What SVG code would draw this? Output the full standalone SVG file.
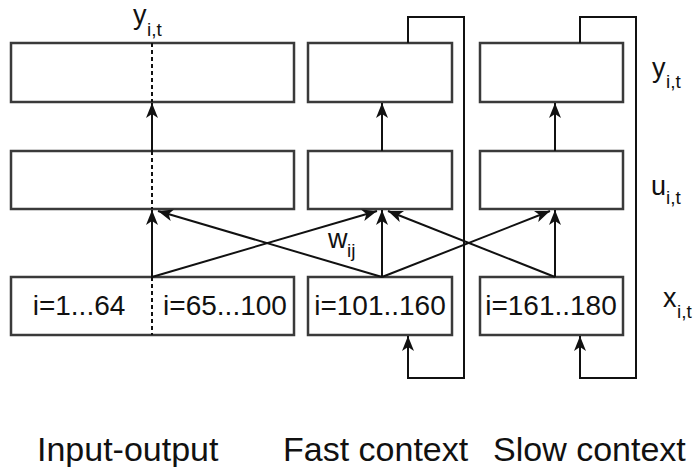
<svg xmlns="http://www.w3.org/2000/svg" width="693" height="467" viewBox="0 0 693 467">
<style>
.box{fill:#fff;stroke:#3a3a3a;stroke-width:2.5}
.ln{fill:none;stroke:#111;stroke-width:2}
.dash{fill:none;stroke:#111;stroke-width:2;stroke-dasharray:4,3}
text{font-family:"Liberation Sans",Arial,sans-serif;fill:#111}
.in{font-size:28px;text-anchor:middle}
.lab{font-size:34px}
.v{font-size:27px}
.s{font-size:19px}
</style>
<defs>
<marker id="ah" markerUnits="userSpaceOnUse" markerWidth="16" markerHeight="12" refX="15" refY="6" orient="auto">
<path d="M0,0 L15,6 L0,12 L4,6 Z" fill="#111"/>
</marker>
</defs>
<rect width="693" height="467" fill="#fff"/>
<g id="io-y"><rect class="box" x="11" y="43" width="283" height="59"/></g>
<g id="io-u"><rect class="box" x="11" y="151" width="283" height="58"/></g>
<g id="io-x"><rect class="box" x="11" y="277" width="283" height="58"/>
<text class="in" x="79" y="315">i=1...64</text>
<text class="in" x="225" y="315">i=65...100</text></g>
<g id="fast-y"><rect class="box" x="308" y="43" width="144" height="59"/></g>
<g id="fast-u"><rect class="box" x="308" y="151" width="144" height="58"/></g>
<g id="fast-x"><rect class="box" x="308" y="277" width="144" height="58"/>
<text class="in" x="380" y="315">i=101..160</text></g>
<g id="slow-y"><rect class="box" x="480" y="43" width="143" height="59"/></g>
<g id="slow-u"><rect class="box" x="480" y="151" width="143" height="58"/></g>
<g id="slow-x"><rect class="box" x="480" y="277" width="143" height="58"/>
<text class="in" x="551" y="315">i=161..180</text></g>
<g id="connectors">
<line class="dash" x1="152" y1="43" x2="152" y2="102"/>
<line class="dash" x1="152" y1="151" x2="152" y2="209"/>
<line class="dash" x1="152" y1="277" x2="152" y2="335"/>
<line class="ln" x1="152" y1="151" x2="152" y2="103" marker-end="url(#ah)"/>
<line class="ln" x1="152" y1="277" x2="152" y2="210" marker-end="url(#ah)"/>
<line class="ln" x1="382" y1="151" x2="382" y2="103" marker-end="url(#ah)"/>
<line class="ln" x1="382" y1="277" x2="382" y2="210" marker-end="url(#ah)"/>
<line class="ln" x1="555" y1="151" x2="555" y2="103" marker-end="url(#ah)"/>
<line class="ln" x1="555" y1="277" x2="555" y2="210" marker-end="url(#ah)"/>
<line class="ln" x1="152" y1="277" x2="377" y2="211" marker-end="url(#ah)"/>
<line class="ln" x1="382" y1="277" x2="158" y2="211" marker-end="url(#ah)"/>
<line class="ln" x1="382" y1="277" x2="550" y2="211" marker-end="url(#ah)"/>
<line class="ln" x1="555" y1="277" x2="388" y2="211" marker-end="url(#ah)"/>
<polyline class="ln" points="408,43 408,17 464,17 464,378 408,378 408,336" marker-end="url(#ah)"/>
<polyline class="ln" points="580,43 580,17 636,17 636,378 580,378 580,336" marker-end="url(#ah)"/>
</g>
<g id="labels">
<text class="v" x="133" y="24">y</text><text class="s" x="147" y="36">i,t</text>
<text class="v" x="652" y="77">y</text><text class="s" x="666" y="88">i,t</text>
<text class="v" x="651" y="195">u</text><text class="s" x="666" y="204">i,t</text>
<text class="v" x="663" y="307">x</text><text class="s" x="677" y="318">i,t</text>
<text class="v" x="328" y="248">w</text><text class="s" x="347" y="257">ij</text>
<text class="lab" x="37" y="461">Input-output</text>
<text class="lab" x="283" y="461">Fast context</text>
<text class="lab" x="493" y="461">Slow context</text>
</g>
</svg>
